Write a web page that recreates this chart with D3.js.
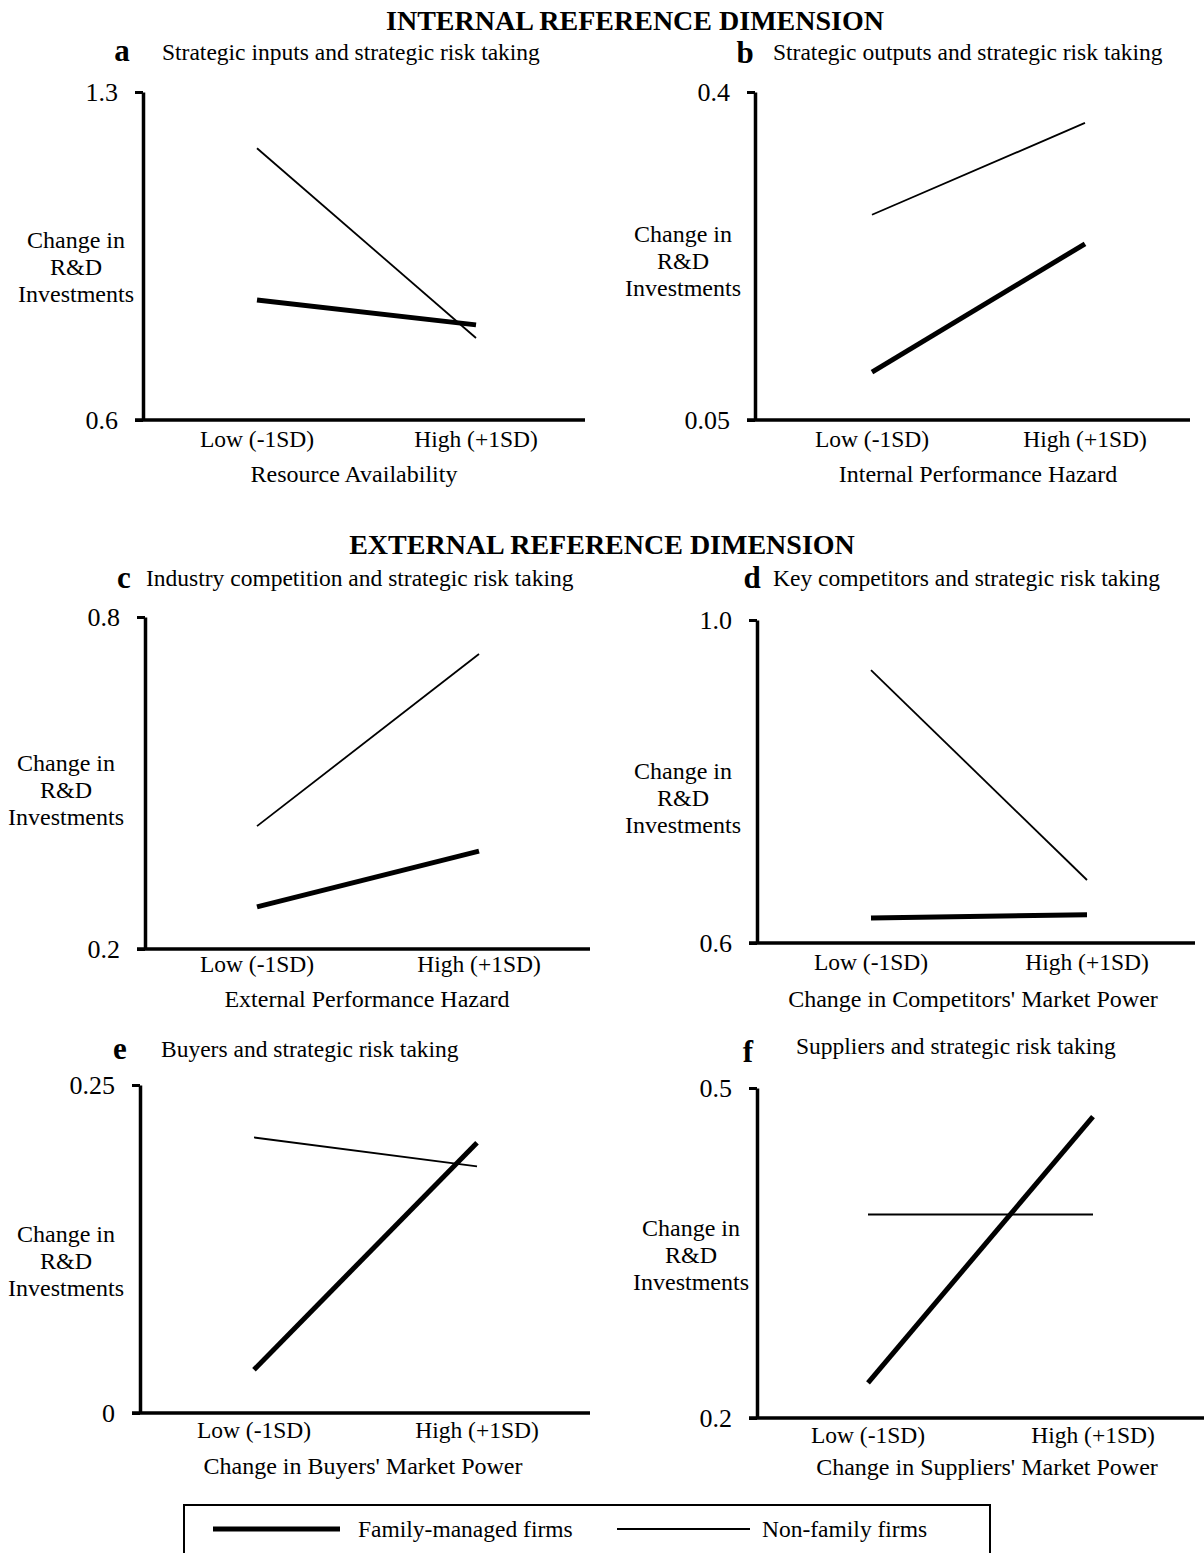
<!DOCTYPE html>
<html>
<head>
<meta charset="utf-8">
<script src="https://cdn.jsdelivr.net/npm/d3@7"></script>
<style>
  body { margin: 0; background: #fff; }
  svg { display: block; font-family: "Liberation Serif", "Times New Roman", serif; }
</style>
</head>
<body>
<div id="chart"></div>
<script>
// ---- data ----
const levels = ["Low (-1SD)", "High (+1SD)"];
const panelLetters = ["a", "b", "c", "d", "e", "f"];
const panelTitles = [
  "Strategic inputs and strategic risk taking",
  "Strategic outputs and strategic risk taking",
  "Industry competition and strategic risk taking",
  "Key competitors and strategic risk taking",
  "Buyers and strategic risk taking",
  "Suppliers and strategic risk taking"
];
const xTitles = [
  "Resource Availability",
  "Internal Performance Hazard",
  "External Performance Hazard",
  "Change in Competitors' Market Power",
  "Change in Buyers' Market Power",
  "Change in Suppliers' Market Power"
];
const yTicks = [[0.6, 1.3], [0.05, 0.4], [0.2, 0.8], [0.6, 1.0], [0, 0.25], [0.2, 0.5]];
const yTickLabels = [["0.6", "1.3"], ["0.05", "0.4"], ["0.2", "0.8"], ["0.6", "1.0"], ["0", "0.25"], ["0.2", "0.5"]];
const familyValues = [[0.856, 0.803], [0.101, 0.238], [0.276, 0.377], [0.631, 0.635], [0.033, 0.206], [0.232, 0.474]];
const nonFamilyValues = [[1.180, 0.775], [0.269, 0.367], [0.422, 0.733], [0.938, 0.678], [0.210, 0.188], [0.385, 0.385]];
const sectionTitles = ["INTERNAL REFERENCE DIMENSION", "EXTERNAL REFERENCE DIMENSION"];
const yLabel = ["Change in", "R&D", "Investments"];
const legendNames = ["Family-managed firms", "Non-family firms"];

// ---- layout (pixel positions of each panel) ----
const layout = [
  { ax: 143, top: 92,   bottom: 420,  xEnd: 585,  lowX: 257, highX: 476, letX: 122, letY: 61,   subX: 162, subY: 60,   ylabX: 76,  ylabY: 248,  tickY: 447,  titleY: 482,  titleX: 354 },
  { ax: 755, top: 92,   bottom: 420,  xEnd: 1190, lowX: 872, highX: 1085, letX: 745, letY: 63,  subX: 773, subY: 60,   ylabX: 683, ylabY: 242,  tickY: 447,  titleY: 482,  titleX: 978 },
  { ax: 145, top: 617,  bottom: 949,  xEnd: 590,  lowX: 257, highX: 479, letX: 124, letY: 588,  subX: 146, subY: 586,  ylabX: 66,  ylabY: 771,  tickY: 972,  titleY: 1007, titleX: 367 },
  { ax: 757, top: 620,  bottom: 943,  xEnd: 1195, lowX: 871, highX: 1087, letX: 752, letY: 588, subX: 773, subY: 586,  ylabX: 683, ylabY: 779,  tickY: 970,  titleY: 1007, titleX: 973 },
  { ax: 140, top: 1085, bottom: 1413, xEnd: 590,  lowX: 254, highX: 477, letX: 120, letY: 1059, subX: 161, subY: 1057, ylabX: 66,  ylabY: 1242, tickY: 1438, titleY: 1474, titleX: 363 },
  { ax: 757, top: 1088, bottom: 1418, xEnd: 1204, lowX: 868, highX: 1093, letX: 748, letY: 1062, subX: 796, subY: 1054, ylabX: 691, ylabY: 1236, tickY: 1443, titleY: 1475, titleX: 987 }
];

const width = 1204, height = 1553;
const svg = d3.select("#chart").append("svg")
  .attr("width", width)
  .attr("height", height);

svg.append("text").attr("x", 635).attr("y", 30).attr("text-anchor", "middle")
  .style("font-size", "28px").style("font-weight", "bold").text(sectionTitles[0]);
svg.append("text").attr("x", 602).attr("y", 554).attr("text-anchor", "middle")
  .style("font-size", "28px").style("font-weight", "bold").text(sectionTitles[1]);

panelLetters.forEach((letter, i) => {
  const L = layout[i];
  const g = svg.append("g");

  const x = d3.scalePoint().domain(levels).range([L.lowX, L.highX]);
  const y = d3.scaleLinear().domain(yTicks[i]).range([L.bottom, L.top]);

  g.append("text").attr("x", L.letX).attr("y", L.letY).attr("text-anchor", "middle")
    .style("font-size", "31px").style("font-weight", "bold").text(letter);
  g.append("text").attr("x", L.subX).attr("y", L.subY)
    .style("font-size", "23.5px").text(panelTitles[i]);

  // y axis
  g.append("g")
    .attr("transform", `translate(${L.ax},0)`)
    .call(d3.axisLeft(y).tickValues(yTicks[i]).tickSize(8).tickSizeOuter(0).tickPadding(17)
      .tickFormat((d, k) => yTickLabels[i][k]))
    .call(a => a.select(".domain").attr("stroke-width", 3.5))
    .call(a => a.selectAll(".tick line").attr("stroke-width", 3))
    .call(a => a.selectAll("text").style("font-size", "26px").style("font-family", "Liberation Serif").attr("fill", "#000"));

  // x axis
  g.append("line")
    .attr("x1", L.ax - 8).attr("x2", L.xEnd)
    .attr("y1", L.bottom).attr("y2", L.bottom)
    .attr("stroke", "#000").attr("stroke-width", 3.5);
  g.selectAll(".xlab").data(levels).join("text")
    .attr("x", d => x(d)).attr("y", L.tickY).attr("text-anchor", "middle")
    .style("font-size", "23.5px").text(d => d);
  g.append("text").attr("x", L.titleX).attr("y", L.titleY).attr("text-anchor", "middle")
    .style("font-size", "24px").text(xTitles[i]);

  g.selectAll(".ylab").data(yLabel).join("text")
    .attr("x", L.ylabX).attr("y", (d, k) => L.ylabY + k * 27).attr("text-anchor", "middle")
    .style("font-size", "24px").text(d => d);

  const line = d3.line().x((d, k) => x(levels[k])).y(d => y(d));
  g.append("path").datum(nonFamilyValues[i]).attr("d", line)
    .attr("fill", "none").attr("stroke", "#000").attr("stroke-width", 1.8);
  g.append("path").datum(familyValues[i]).attr("d", line)
    .attr("fill", "none").attr("stroke", "#000").attr("stroke-width", 5);
});

// legend
const leg = svg.append("g");
leg.append("rect").attr("x", 184).attr("y", 1505).attr("width", 806).attr("height", 60)
  .attr("fill", "none").attr("stroke", "#000").attr("stroke-width", 2);
leg.append("line").attr("x1", 213).attr("x2", 340).attr("y1", 1529).attr("y2", 1529)
  .attr("stroke", "#000").attr("stroke-width", 5);
leg.append("text").attr("x", 358).attr("y", 1537).style("font-size", "23.5px").text(legendNames[0]);
leg.append("line").attr("x1", 617).attr("x2", 750).attr("y1", 1529).attr("y2", 1529)
  .attr("stroke", "#000").attr("stroke-width", 1.8);
leg.append("text").attr("x", 762).attr("y", 1537).style("font-size", "23.5px").text(legendNames[1]);
</script>
</body>
</html>
